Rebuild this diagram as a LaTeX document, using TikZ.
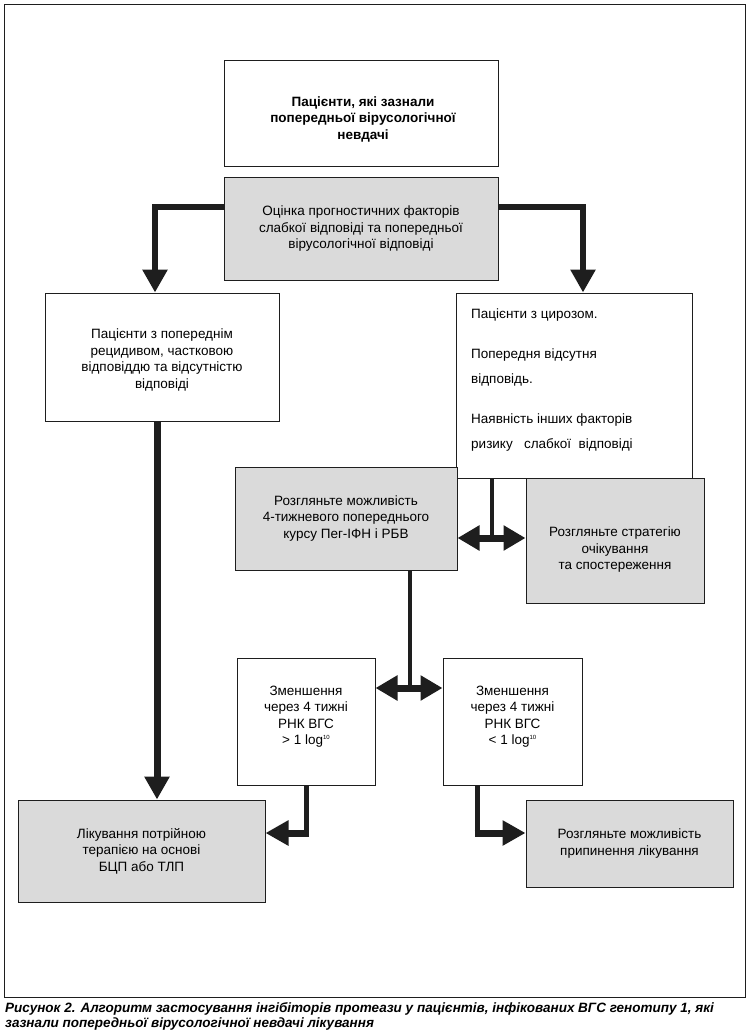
\documentclass[tikz,border=0pt]{standalone}
\usepackage{fontspec}
\setmainfont{Liberation Sans}
\usetikzlibrary{arrows.meta,calc}
\definecolor{boxgray}{HTML}{DADADA}
\definecolor{ink}{HTML}{1E1E1E}
\newcommand{\boxfont}{\fontsize{13.5}{16.5}\selectfont}
\newcommand{\lgsup}{\raisebox{5pt}{\fontsize{6}{6}\selectfont 10}}
\begin{document}
\begin{tikzpicture}[x=1pt,y=-1pt,
  box/.style={draw=ink,line width=1pt,inner sep=0pt,align=center,font=\boxfont,fill=white},
  gbox/.style={box,fill=boxgray},
  txt/.style={inner sep=0pt,align=center,font=\boxfont},
  bigarr/.style={draw=ink,line width=7pt,line join=miter,-{Triangle[width=24pt,length=23pt]}},
  dblarr/.style={draw=ink,line width=7pt,{Triangle[width=24pt,length=22pt]}-{Triangle[width=24pt,length=22pt]}},
  stem/.style={draw=ink,line width=4pt},
]
\useasboundingbox (0,0) rectangle (750,1035);
\draw[ink,line width=0.9pt] (4,4) rectangle (745,997);

% boxes
\node[box,minimum width=274pt,minimum height=106pt] (b1) at (361,114) {};
\node[txt,font=\boxfont\bfseries] (t1) at (363,119)
  {Пацієнти, які зазнали\\попередньої вірусологічної\\невдачі};
\node[gbox,minimum width=274pt,minimum height=102pt] (b2) at (361,229)
  {Оцінка прогностичних факторів\\слабкої відповіді та попередньої\\вірусологічної відповіді};
\node[box,minimum width=234pt,minimum height=128pt] (b3) at (162,357) {};
\node[txt] (t3) at (162,360)
  {Пацієнти з попереднім\\рецидивом, частковою\\відповіддю та відсутністю\\відповіді};
\node[box,minimum width=236pt,minimum height=185pt] (b4) at (574,385.5) {};
\node[txt,anchor=north west,align=left,font=\fontsize{13.5}{24.5}\selectfont] (t4) at (471,308.5)
  {Пацієнти з цирозом.\\[16pt]Попередня відсутня\\відповідь.\\[16pt]Наявність інших факторів\\ризику\ \ \ слабкої\ \ відповіді};
\node[gbox,minimum width=222pt,minimum height=103pt] (b5) at (346,518.5)
  {Розгляньте можливість\\4-тижневого попереднього\\курсу Пег-ІФН і РБВ};
\node[gbox,minimum width=178pt,minimum height=125pt] (b6) at (615,540.5) {};
\node[txt] (t6) at (615,550) {Розгляньте стратегію\\очікування\\та спостереження};
\node[box,minimum width=138pt,minimum height=127pt] (b7) at (306,721.5) {};
\node[txt] (t7) at (306,716.5) {Зменшення\\через 4 тижні\\РНК ВГС\\> 1 log\lgsup};
\node[box,minimum width=139pt,minimum height=127pt] (b8) at (512.5,721.5) {};
\node[txt] (t8) at (512.5,716.5) {Зменшення\\через 4 тижні\\РНК ВГС\\< 1 log\lgsup};
\node[gbox,minimum width=247pt,minimum height=102pt] (b9) at (141.5,851)
  {Лікування потрійною\\терапією на основі\\БЦП або ТЛП};
\node[gbox,minimum width=207pt,minimum height=87pt] (b10) at (629.5,843.5)
  {Розгляньте можливість\\припинення лікування};

% connectors
\coordinate (cl) at (155,207);
\coordinate (cr) at (583,207);
\draw[bigarr,line width=6pt] (b2.west |- cl) -- (cl) -- (cl |- b3.north);
\draw[bigarr,line width=6pt] (b2.east |- cr) -- (cr) -- (cr |- b4.north);
\draw[bigarr] (b3.south -| 157,0) -- (157,0 |- b9.north);

\coordinate (j1) at (492,538);
\draw[stem] (b4.south -| j1) -- (j1);
\draw[dblarr] (b5.east |- j1) -- (b6.west |- j1);

\coordinate (j2) at (410,688);
\draw[stem] (b5.south -| j2) -- (j2);
\draw[dblarr] (b7.east |- j2) -- (b8.west |- j2);

\coordinate (j3) at (306,833);
\draw[stem,line width=5pt] (b7.south -| j3) -- ([yshift=-3.5pt]j3);
\draw[bigarr] ([xshift=2.5pt]j3) -- (b9.east |- j3);

\coordinate (j4) at (477,833);
\draw[stem,line width=5pt] (b8.south -| j4) -- ([yshift=-3.5pt]j4);
\draw[bigarr] ([xshift=-2.5pt]j4) -- (b10.west |- j4);

% caption
\node[inner sep=0pt,anchor=north west,align=left,font=\fontsize{13.5}{15}\selectfont\bfseries\itshape] (cap) at (5,1002)
  {Рисунок 2. Алгоритм застосування інгібіторів протеази у пацієнтів, інфікованих ВГС генотипу 1, які\\зазнали попередньої вірусологічної невдачі лікування};
\end{tikzpicture}
\end{document}
